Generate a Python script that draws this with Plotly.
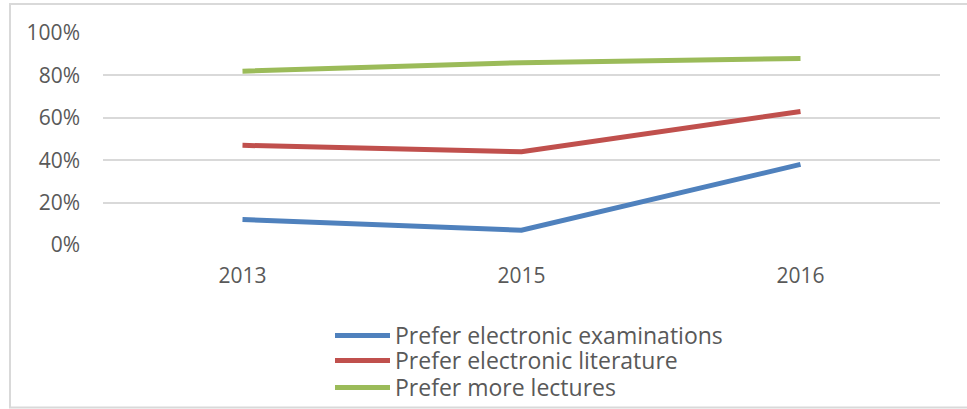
import plotly.graph_objects as go

years = ["2013", "2015", "2016"]
series_names = ["Prefer electronic examinations", "Prefer electronic literature", "Prefer more lectures"]
exams = [0.12, 0.07, 0.38]
literature = [0.47, 0.44, 0.63]
lectures = [0.82, 0.86, 0.88]
y_ticks = [0, 0.2, 0.4, 0.6, 0.8, 1.0]
y_tick_labels = ["0%", "20%", "40%", "60%", "80%", "100%"]

colors = ["#4F81BD", "#C0504D", "#9BBB59"]
values = [exams, literature, lectures]
legend_ids = ["legend", "legend2", "legend3"]

fig = go.Figure()
for name, vals, c, lg in zip(series_names, values, colors, legend_ids):
    fig.add_trace(go.Scatter(x=years, y=vals, name=name, mode="lines",
                             line=dict(color=c, width=5), legend=lg))

W, H = 967, 409
L, R, T, B = 103, 27, 33, 164
pw, ph = W - L - R, H - T - B

def px(x):
    return (x - L) / pw

def py(y):
    return (H - B - y) / ph

FONT = "'Open Sans', Lato, sans-serif"
FS = 21
LFS = 23
TXT = "#595959"

def leg(top):
    return dict(x=px(330), y=py(top), xanchor="left", yanchor="top",
                orientation="v", itemwidth=55,
                font=dict(family=FONT, size=LFS, color=TXT),
                bgcolor="rgba(0,0,0,0)")

fig.update_layout(
    width=W, height=H,
    margin=dict(l=L, r=R, t=T, b=B, autoexpand=False),
    paper_bgcolor="white", plot_bgcolor="white",
    font=dict(family=FONT, size=FS, color=TXT),
    showlegend=True,
    legend=leg(314),
    legend2=leg(339),
    legend3=leg(366),
    xaxis=dict(type="category", range=[-0.5, 2.5], showgrid=False, zeroline=False,
               showline=False, ticks="", ticklabelstandoff=16, automargin=False,
               tickfont=dict(family=FONT, size=FS, color=TXT)),
    yaxis=dict(range=[0, 1], tickvals=y_ticks, ticktext=y_tick_labels,
               showgrid=True, gridcolor="#D9D9D9", gridwidth=1.5, zeroline=False,
               showline=False, ticks="", ticklabelstandoff=22, automargin=False,
               tickfont=dict(family=FONT, size=FS, color=TXT)),
    shapes=[dict(type="rect", xref="paper", yref="paper",
                 x0=px(10), x1=px(975), y0=py(407.5), y1=py(4),
                 line=dict(color="#D9D9D9", width=2), fillcolor="rgba(0,0,0,0)",
                 layer="below")],
)

fig.write_html("out.html", config={"displayModeBar": False},
               post_script="document.body.style.margin='0';document.body.style.overflow='hidden';")
